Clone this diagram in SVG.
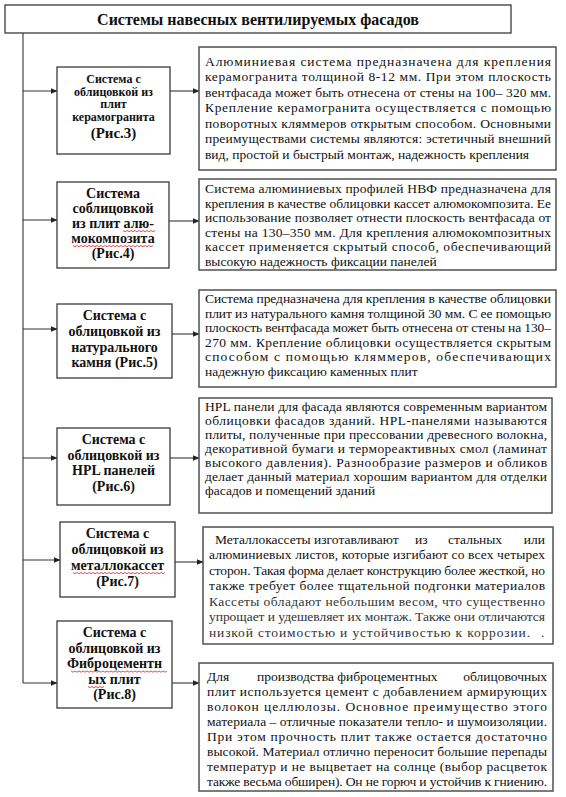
<svg xmlns="http://www.w3.org/2000/svg" width="566" height="797" viewBox="0 0 566 797">
<defs>
<marker id="ah" markerWidth="7" markerHeight="6" refX="6.5" refY="3" orient="auto" markerUnits="userSpaceOnUse">
<path d="M0,0 L7,3 L0,6 z" fill="#222"/>
</marker>
<style>
.box{fill:#fff;stroke:#3a3a3a;stroke-width:1.3}
.dbox{fill:#fff;stroke:#505050;stroke-width:1.5}
.ln{fill:none;stroke:#333;stroke-width:1.1}
.ar{fill:none;stroke:#333;stroke-width:1.1;marker-end:url(#ah)}
.t{font-family:"Liberation Serif","Times New Roman",serif;fill:#111}
.title{font-size:16px;font-weight:bold;text-anchor:middle}
.n{font-size:14px;font-weight:bold;text-anchor:middle}
.s{font-size:12px}
.d{font-size:13.5px}
.g{fill:#333}
.sq{fill:none;stroke:#d23;stroke-width:0.8}
</style>
</defs>
<rect width="566" height="797" fill="#fff"/>

<g id="title">
<rect class="box" x="5" y="5" width="506" height="28"/>
<text class="t title" x="258" y="24.5">Системы навесных вентилируемых фасадов</text>
</g>

<g id="connectors">
<path class="ln" d="M23,33 V683"/>
<path class="ar" d="M23,91 H57"/>
<path class="ar" d="M170,91 H199"/>
<path class="ar" d="M23,220 H57"/>
<path class="ar" d="M169,221 H199"/>
<path class="ar" d="M23,329 H57"/>
<path class="ar" d="M172,334 H199"/>
<path class="ar" d="M23,458 H57"/>
<path class="ar" d="M170,458 H199"/>
<path class="ar" d="M23,560 H60"/>
<path class="ar" d="M175,562 H203"/>
<path class="ar" d="M23,683 H57"/>
<path class="ar" d="M172,683 H199"/>
</g>

<g id="node1">
<rect class="box" x="57" y="67" width="113" height="87"/>
<text class="t n s" x="113.5" y="83">Система с</text>
<text class="t n s" x="113.5" y="95.5">облицовкой из</text>
<text class="t n s" x="113.5" y="108">плит</text>
<text class="t n s" x="113.5" y="120.5">керамогранита</text>
<text class="t n" style="font-size:15px" x="113.5" y="138">(Рис.3)</text>
</g>

<g id="desc1">
<rect class="dbox" x="199" y="47" width="357" height="123"/>
<text class="t d" x="205" y="65.5" textLength="346" lengthAdjust="spacing">Алюминиевая система предназначена для крепления</text>
<text class="t d" x="205" y="81" textLength="346" lengthAdjust="spacing">керамогранита толщиной 8-12 мм. При этом плоскость</text>
<text class="t d" x="205" y="96.5" textLength="346" lengthAdjust="spacing">вентфасада может быть отнесена от стены на 100– 320 мм.</text>
<text class="t d" x="205" y="112" textLength="346" lengthAdjust="spacing">Крепление керамогранита осуществляется с помощью</text>
<text class="t d" x="205" y="127.5" textLength="346" lengthAdjust="spacing">поворотных кляммеров открытым способом. Основными</text>
<text class="t d" x="205" y="143" textLength="346" lengthAdjust="spacing">преимуществами системы являются: эстетичный внешний</text>
<text class="t d" x="205" y="158.5">вид, простой и быстрый монтаж, надежность крепления</text>
</g>

<g id="node2">
<rect class="box" x="57" y="182" width="112" height="86"/>
<text class="t n" x="113" y="197.5">Система</text>
<text class="t n" x="113" y="212.5">соблицовкой</text>
<text class="t n" x="113" y="227.5">из плит алю-</text>
<text class="t n" x="113" y="242.5">мокомпозита</text>
<text class="t n" x="113" y="258">(Рис.4)</text>
<path class="sq" d="M123,230.5 l2,1.2 l2,-1.2 l2,1.2 l2,-1.2 l2,1.2 l2,-1.2 l2,1.2 l2,-1.2 l2,1.2 l2,-1.2 l2,1.2 l2,-1.2 l2,1.2 l2,-1.2 l2,1.2 l2,-1.2"/>
<path class="sq" d="M73,245.5 l2,1.2 l2,-1.2 l2,1.2 l2,-1.2 l2,1.2 l2,-1.2 l2,1.2 l2,-1.2 l2,1.2 l2,-1.2 l2,1.2 l2,-1.2 l2,1.2 l2,-1.2 l2,1.2 l2,-1.2 l2,1.2 l2,-1.2 l2,1.2 l2,-1.2 l2,1.2 l2,-1.2 l2,1.2 l2,-1.2 l2,1.2 l2,-1.2 l2,1.2 l2,-1.2 l2,1.2 l2,-1.2 l2,1.2 l2,-1.2 l2,1.2 l2,-1.2 l2,1.2 l2,-1.2 l2,1.2 l2,-1.2 l2,1.2 l2,-1.2"/>
</g>

<g id="desc2">
<rect class="dbox" x="199" y="179" width="357" height="91"/>
<text class="t d" x="205" y="193" textLength="346" lengthAdjust="spacing">Система алюминиевых профилей НВФ предназначена для</text>
<text class="t d" x="205" y="207.6" textLength="346" lengthAdjust="spacing">крепления в качестве облицовки кассет алюмокомпозита. Ее</text>
<text class="t d" x="205" y="222.2" textLength="346" lengthAdjust="spacing">использование позволяет отнести плоскость вентфасада от</text>
<text class="t d" x="205" y="236.8" textLength="346" lengthAdjust="spacing">стены на 130–350 мм. Для крепления алюмокомпозитных</text>
<text class="t d" x="205" y="251.4" textLength="346" lengthAdjust="spacing">кассет применяется скрытый способ, обеспечивающий</text>
<text class="t d" x="205" y="266">высокую надежность фиксации панелей</text>
</g>

<g id="node3">
<rect class="box" x="57" y="304" width="115" height="74"/>
<text class="t n" x="114.5" y="320">Система с</text>
<text class="t n" x="114.5" y="336">облицовкой из</text>
<text class="t n" x="114.5" y="351.5">натурального</text>
<text class="t n" x="114.5" y="367">камня (Рис.5)</text>
</g>

<g id="desc3">
<rect class="dbox" x="199" y="290" width="357" height="97"/>
<text class="t d" x="205" y="303" textLength="346" lengthAdjust="spacing">Система предназначена для крепления в качестве облицовки</text>
<text class="t d" x="205" y="317.5" textLength="346" lengthAdjust="spacing">плит из натурального камня толщиной 30 мм. С ее помощью</text>
<text class="t d" x="205" y="332" textLength="346" lengthAdjust="spacing">плоскость вентфасада может быть отнесена от стены на 130–</text>
<text class="t d" x="205" y="346.5" textLength="346" lengthAdjust="spacing">270 мм. Крепление облицовки осуществляется скрытым</text>
<text class="t d" x="205" y="361" textLength="346" lengthAdjust="spacing">способом с помощью кляммеров, обеспечивающих</text>
<text class="t d" x="205" y="375.5">надежную фиксацию каменных плит</text>
</g>

<g id="node4">
<rect class="box" x="57" y="428" width="113" height="77"/>
<text class="t n" x="113.5" y="444">Система с</text>
<text class="t n" x="113.5" y="459.5">облицовкой из</text>
<text class="t n" x="113.5" y="475">HPL панелей</text>
<text class="t n" x="113.5" y="490.5">(Рис.6)</text>
</g>

<g id="desc4">
<rect class="dbox" x="199" y="398" width="353" height="115"/>
<text class="t d" x="205" y="411" textLength="342" lengthAdjust="spacing">HPL панели для фасада являются современным вариантом</text>
<text class="t d" x="205" y="425" textLength="342" lengthAdjust="spacing">облицовки фасадов зданий. HPL-панелями называются</text>
<text class="t d" x="205" y="439" textLength="342" lengthAdjust="spacing">плиты, полученные при прессовании древесного волокна,</text>
<text class="t d" x="205" y="453" textLength="342" lengthAdjust="spacing">декоративной бумаги и термореактивных смол (ламинат</text>
<text class="t d" x="205" y="467" textLength="342" lengthAdjust="spacing">высокого давления). Разнообразие размеров и обликов</text>
<text class="t d" x="205" y="481" textLength="342" lengthAdjust="spacing">делает данный материал хорошим вариантом для отделки</text>
<text class="t d" x="205" y="495">фасадов и помещений зданий</text>
</g>

<g id="node5">
<rect class="box" x="60" y="522" width="115" height="75"/>
<text class="t n" x="117.5" y="538">Система с</text>
<text class="t n" x="117.5" y="554">облицовкой из</text>
<text class="t n" x="117.5" y="569.5">металлокассет</text>
<text class="t n" x="117.5" y="585.5">(Рис.7)</text>
<path class="sq" d="M73,572.5 l2,1.2 l2,-1.2 l2,1.2 l2,-1.2 l2,1.2 l2,-1.2 l2,1.2 l2,-1.2 l2,1.2 l2,-1.2 l2,1.2 l2,-1.2 l2,1.2 l2,-1.2 l2,1.2 l2,-1.2 l2,1.2 l2,-1.2 l2,1.2 l2,-1.2 l2,1.2 l2,-1.2 l2,1.2 l2,-1.2 l2,1.2 l2,-1.2 l2,1.2 l2,-1.2 l2,1.2 l2,-1.2 l2,1.2 l2,-1.2 l2,1.2 l2,-1.2 l2,1.2 l2,-1.2 l2,1.2 l2,-1.2 l2,1.2 l2,-1.2 l2,1.2 l2,-1.2 l2,1.2 l2,-1.2 l2,1.2 l2,-1.2"/>
</g>

<g id="desc5">
<rect class="dbox" x="203" y="527" width="350" height="117"/>
<text class="t d" x="215" y="543.5">Металлокассеты изготавливают</text>
<text class="t d" x="415" y="543.5">из</text>
<text class="t d" x="448" y="543.5">стальных</text>
<text class="t d" x="545" y="543.5" text-anchor="end">или</text>
<text class="t d" x="209" y="559" textLength="336" lengthAdjust="spacing">алюминиевых листов, которые изгибают со всех четырех</text>
<text class="t d" x="209" y="574.5" textLength="336" lengthAdjust="spacing">сторон. Такая форма делает конструкцию более жесткой, но</text>
<text class="t d" x="209" y="590" textLength="336" lengthAdjust="spacing">также требует более тщательной подгонки материалов</text>
<text class="t d g" x="209" y="605.5" textLength="336" lengthAdjust="spacing">Кассеты обладают небольшим весом, что существенно</text>
<text class="t d g" x="209" y="621" textLength="336" lengthAdjust="spacing">упрощает и удешевляет их монтаж. Также они отличаются</text>
<text class="t d g" x="209" y="636.5" textLength="321" lengthAdjust="spacing">низкой стоимостью и устойчивостью к коррозии.</text>
<text class="t d g" x="541" y="636.5">.</text>
</g>

<g id="node6">
<rect class="box" x="57" y="621" width="115" height="87"/>
<text class="t n" x="114.5" y="637">Система с</text>
<text class="t n" x="114.5" y="652.5">облицовкой из</text>
<text class="t n" x="114.5" y="668">Фиброцементн</text>
<text class="t n" x="114.5" y="683.5">ых плит</text>
<text class="t n" x="114.5" y="699">(Рис.8)</text>
<path class="sq" d="M71,671 l2,1.2 l2,-1.2 l2,1.2 l2,-1.2 l2,1.2 l2,-1.2 l2,1.2 l2,-1.2 l2,1.2 l2,-1.2 l2,1.2 l2,-1.2 l2,1.2 l2,-1.2 l2,1.2 l2,-1.2 l2,1.2 l2,-1.2 l2,1.2 l2,-1.2 l2,1.2 l2,-1.2 l2,1.2 l2,-1.2 l2,1.2 l2,-1.2 l2,1.2 l2,-1.2 l2,1.2 l2,-1.2 l2,1.2 l2,-1.2 l2,1.2 l2,-1.2 l2,1.2 l2,-1.2 l2,1.2 l2,-1.2 l2,1.2 l2,-1.2 l2,1.2 l2,-1.2 l2,1.2 l2,-1.2 l2,1.2 l2,-1.2 l2,1.2 l2,-1.2"/>
<path class="sq" d="M88,686.5 l2,1.2 l2,-1.2 l2,1.2 l2,-1.2 l2,1.2 l2,-1.2 l2,1.2 l2,-1.2"/>
</g>

<g id="desc6">
<rect class="dbox" x="199" y="663" width="354" height="128"/>
<text class="t d" x="207" y="680.5">Для</text>
<text class="t d" x="257" y="680.5">производства фиброцементных</text>
<text class="t d" x="547" y="680.5" text-anchor="end">облицовочных</text>
<text class="t d" x="207" y="695.5" textLength="340" lengthAdjust="spacing">плит используется цемент с добавлением армирующих</text>
<text class="t d" x="207" y="710.5" textLength="340" lengthAdjust="spacing">волокон целлюлозы. Основное преимущество этого</text>
<text class="t d" x="207" y="725.5" textLength="340" lengthAdjust="spacing">материала – отличные показатели тепло- и шумоизоляции.</text>
<text class="t d" x="207" y="740.5" textLength="340" lengthAdjust="spacing">При этом прочность плит также остается достаточно</text>
<text class="t d" x="207" y="755.5" textLength="340" lengthAdjust="spacing">высокой. Материал отлично переносит большие перепады</text>
<text class="t d" x="207" y="770.5" textLength="340" lengthAdjust="spacing">температур и не выцветает на солнце (выбор расцветок</text>
<text class="t d" x="207" y="785.5" textLength="340" lengthAdjust="spacing">также весьма обширен). Он не горюч и устойчив к гниению.</text>
</g>
</svg>
